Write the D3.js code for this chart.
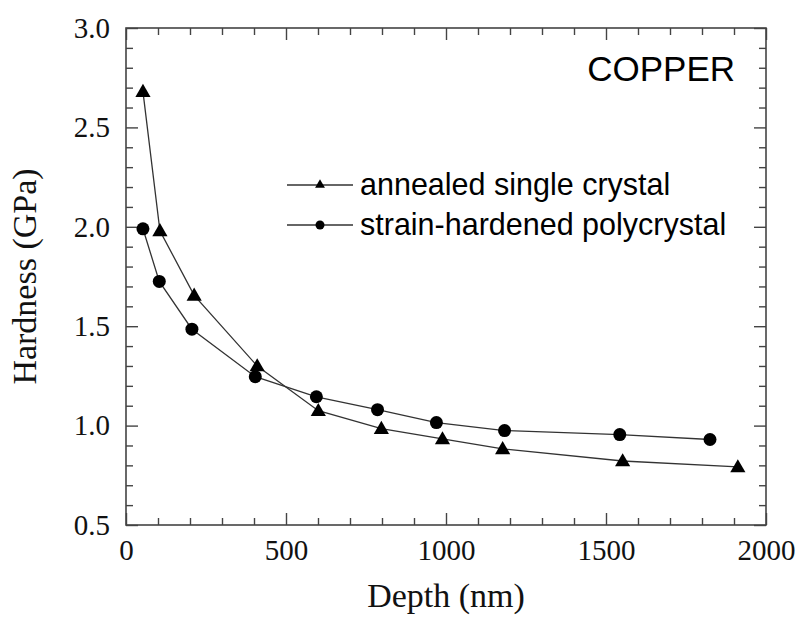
<!DOCTYPE html>
<html>
<head>
<meta charset="utf-8">
<script src="https://cdn.jsdelivr.net/npm/d3@7"></script>
<style>
  body { margin: 0; background: #fff; }
  svg { display: block; }
</style>
</head>
<body>
<div id="chart"></div>
<script>
// data (depth in nm, hardness in GPa)
const annealedDepth = [53, 106, 213, 410, 601, 798, 989, 1177, 1552, 1912];
const annealedHard  = [2.68, 1.98, 1.655, 1.30, 1.075, 0.985, 0.933, 0.883, 0.822, 0.792];
const polyDepth = [53, 104, 206, 404, 595, 786, 970, 1183, 1543, 1825];
const polyHard  = [1.99, 1.725, 1.485, 1.246, 1.145, 1.08, 1.015, 0.975, 0.955, 0.93];
const xMajor = [0, 500, 1000, 1500, 2000];
const yMajor = [0.5, 1.0, 1.5, 2.0, 2.5, 3.0];
const seriesNames = ["annealed single crystal", "strain-hardened polycrystal"];

const width = 799, height = 622;
const margin = {left: 126, right: 33, top: 28, bottom: 97};

const svg = d3.select("#chart").append("svg")
  .attr("width", width)
  .attr("height", height);

const x = d3.scaleLinear().domain([0, 2000]).range([margin.left, width - margin.right]);
const y = d3.scaleLinear().domain([0.5, 3.0]).range([height - margin.bottom, margin.top]);

const xMinor = d3.range(0, 2001, 100).filter(v => v % 500 !== 0);
const yMinor = d3.range(5, 31).map(v => v / 10).filter(v => Math.round(v * 10) % 5 !== 0);

const axisColor = "#444";
const serif = "'Liberation Serif', 'Times New Roman', serif";
const sans = "'Liberation Sans', Arial, sans-serif";

function styleAxis(g) {
  g.select(".domain").remove();
  g.selectAll(".tick line").attr("stroke", axisColor).attr("stroke-width", 1.4);
  g.selectAll(".tick text").attr("fill", "#111").attr("font-family", serif).attr("font-size", 29);
}

// bottom axis: major with labels, minor ticks
svg.append("g").attr("transform", `translate(0,${y(0.5)})`)
  .call(d3.axisBottom(x).tickValues(xMajor).tickSize(-12).tickPadding(14).tickFormat(d3.format("d")))
  .call(styleAxis);
svg.append("g").attr("transform", `translate(0,${y(0.5)})`)
  .call(d3.axisBottom(x).tickValues(xMinor).tickSize(-7).tickFormat(""))
  .call(styleAxis);
// top axis
svg.append("g").attr("transform", `translate(0,${y(3.0)})`)
  .call(d3.axisTop(x).tickValues(xMajor).tickSize(-12).tickFormat(""))
  .call(styleAxis);
svg.append("g").attr("transform", `translate(0,${y(3.0)})`)
  .call(d3.axisTop(x).tickValues(xMinor).tickSize(-7).tickFormat(""))
  .call(styleAxis);
// left axis
svg.append("g").attr("transform", `translate(${x(0)},0)`)
  .call(d3.axisLeft(y).tickValues(yMajor).tickSize(-12).tickPadding(16).tickFormat(d3.format(".1f")))
  .call(styleAxis);
svg.append("g").attr("transform", `translate(${x(0)},0)`)
  .call(d3.axisLeft(y).tickValues(yMinor).tickSize(-7).tickFormat(""))
  .call(styleAxis);
// right axis
svg.append("g").attr("transform", `translate(${x(2000)},0)`)
  .call(d3.axisRight(y).tickValues(yMajor).tickSize(-12).tickFormat(""))
  .call(styleAxis);
svg.append("g").attr("transform", `translate(${x(2000)},0)`)
  .call(d3.axisRight(y).tickValues(yMinor).tickSize(-7).tickFormat(""))
  .call(styleAxis);

// frame
svg.append("rect")
  .attr("x", x(0)).attr("y", y(3.0))
  .attr("width", x(2000) - x(0)).attr("height", y(0.5) - y(3.0))
  .attr("fill", "none").attr("stroke", axisColor).attr("stroke-width", 1.6);

// axis titles
svg.append("text")
  .attr("x", (x(0) + x(2000)) / 2).attr("y", 607)
  .attr("text-anchor", "middle")
  .attr("font-family", serif).attr("font-size", 34).attr("fill", "#111")
  .text("Depth (nm)");
svg.append("text")
  .attr("transform", `translate(36,${(y(0.5) + y(3.0)) / 2}) rotate(-90)`)
  .attr("text-anchor", "middle")
  .attr("font-family", serif).attr("font-size", 34).attr("fill", "#111")
  .text("Hardness (GPa)");

// series
const annealed = annealedDepth.map((d, i) => [d, annealedHard[i]]);
const poly = polyDepth.map((d, i) => [d, polyHard[i]]);
const line = d3.line().x(d => x(d[0])).y(d => y(d[1]));

[annealed, poly].forEach(s => {
  svg.append("path").datum(s)
    .attr("d", line)
    .attr("fill", "none").attr("stroke", "#333").attr("stroke-width", 1.3);
});

const tri = d3.symbol().type(d3.symbolTriangle).size(100);
const triSmall = d3.symbol().type(d3.symbolTriangle).size(42);

svg.selectAll(".tri").data(annealed).enter().append("path")
  .attr("class", "tri")
  .attr("transform", d => `translate(${x(d[0])},${y(d[1]) + 1})`)
  .attr("d", tri).attr("fill", "#000");

svg.selectAll(".dot").data(poly).enter().append("circle")
  .attr("class", "dot")
  .attr("cx", d => x(d[0])).attr("cy", d => y(d[1]))
  .attr("r", 6.5).attr("fill", "#000");

// label
svg.append("text")
  .attr("x", 735).attr("y", 81)
  .attr("text-anchor", "end")
  .attr("font-family", sans).attr("font-size", 35).attr("fill", "#000")
  .text("COPPER");

// legend
const legend = svg.append("g").attr("transform", "translate(287,185)");
seriesNames.forEach((name, i) => {
  const row = legend.append("g").attr("transform", `translate(0,${i * 40})`);
  row.append("line").attr("x1", 0).attr("x2", 66).attr("y1", 0).attr("y2", 0)
    .attr("stroke", "#333").attr("stroke-width", 1.3);
  if (i === 0) {
    row.append("path").attr("transform", "translate(33,0)").attr("d", triSmall).attr("fill", "#000");
  } else {
    row.append("circle").attr("cx", 33).attr("cy", 0).attr("r", 4.5).attr("fill", "#000");
  }
  row.append("text").attr("x", 73).attr("y", 10)
    .attr("font-family", sans).attr("font-size", 30.5).attr("fill", "#000")
    .text(name);
});
</script>
</body>
</html>
